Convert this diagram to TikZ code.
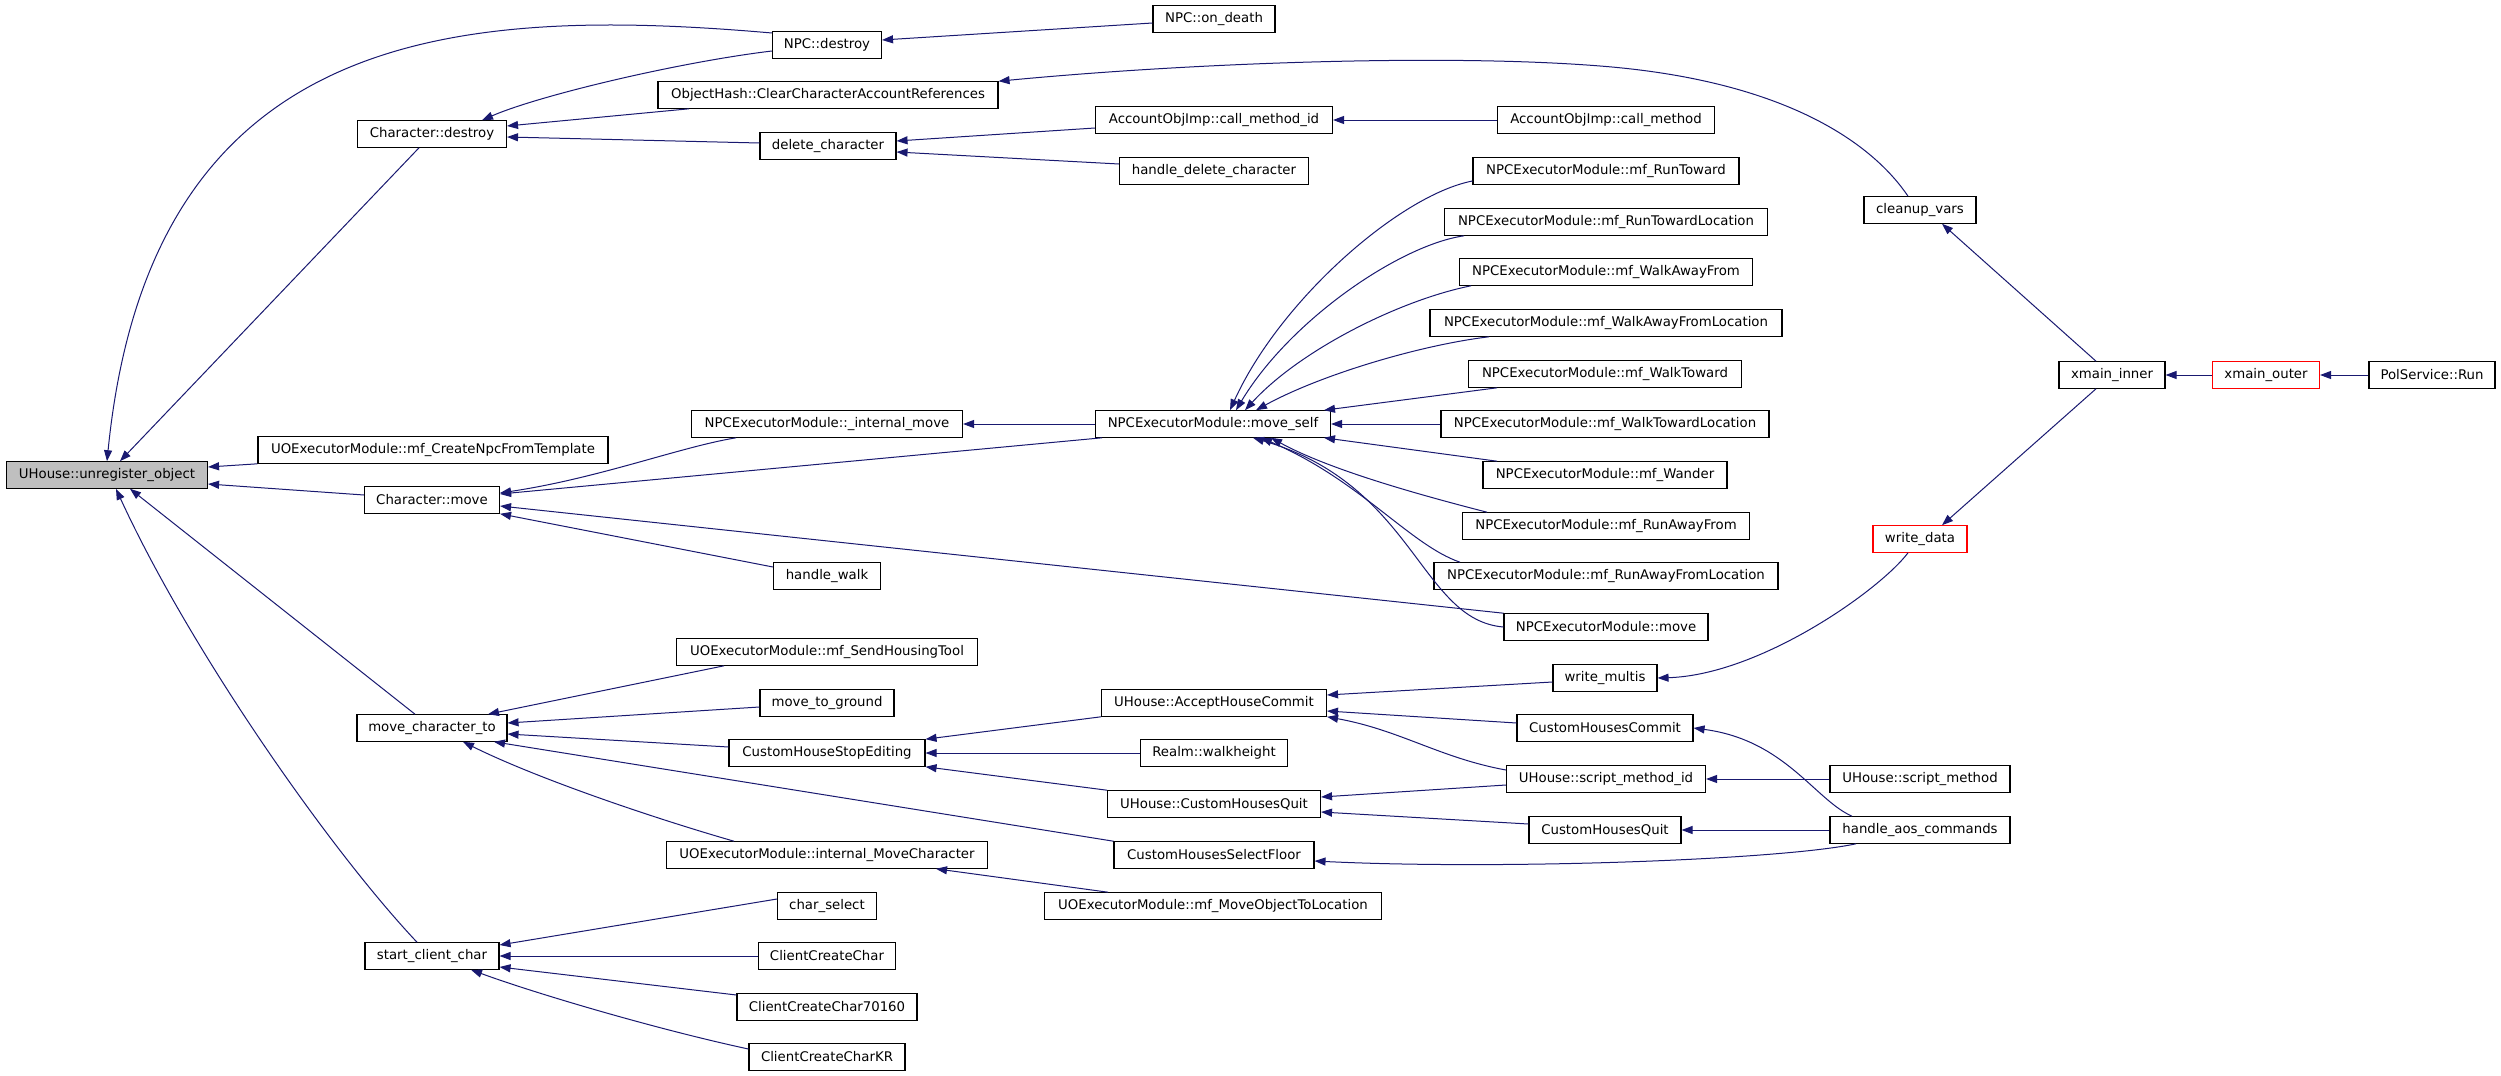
\documentclass[tikz,border=0pt]{standalone}
\usepackage{fontspec}
\setmainfont{DejaVu Sans}
\usetikzlibrary{arrows.meta}
\definecolor{edgeblue}{HTML}{191970}
\definecolor{boxgray}{HTML}{BFBFBF}
\tikzset{
  box/.style={draw=black, line width=1.1pt, minimum height=26.5pt, inner sep=0pt, font=\fontsize{13.3}{16}\selectfont, anchor=center},
  redbox/.style={box, draw=red},
  gbox/.style={box, fill=boxgray},
  edge/.style={draw=edgeblue, line width=1pt, -{Triangle[length=11pt,width=8pt]}},
}
\begin{document}
\begin{tikzpicture}[x={(1pt,0)}, y={(0,-1pt)}]
\fill[white] (0,0) rectangle (2501,1076);
\useasboundingbox (0,0) rectangle (2501,1076);
% column 0
\node[gbox, minimum width=201pt] (ureg) at (107,475) {UHouse::unregister\_object};
% column 1
\node[box, minimum width=149pt] (cdestroy) at (432,134) {Character::destroy};
\node[box, minimum width=350pt] (createnpc) at (433,450) {UOExecutorModule::mf\_CreateNpcFromTemplate};
\node[box, minimum width=135pt] (cmove) at (432,500) {Character::move};
\node[box, minimum width=150pt] (mcto) at (432,728) {move\_character\_to};
\node[box, minimum width=134pt] (scc) at (432,956) {start\_client\_char};
% column 2
\node[box, minimum width=109pt] (npcdestroy) at (827,45) {NPC::destroy};
\node[box, minimum width=340pt] (ohash) at (828,95) {ObjectHash::ClearCharacterAccountReferences};
\node[box, minimum width=136pt] (delchar) at (828,146) {delete\_character};
\node[box, minimum width=271pt] (imove) at (827,424) {NPCExecutorModule::\_internal\_move};
\node[box, minimum width=107pt] (hwalk) at (827,576) {handle\_walk};
\node[box, minimum width=301pt] (sendhouse) at (827,652) {UOExecutorModule::mf\_SendHousingTool};
\node[box, minimum width=134pt] (mtg) at (827,703) {move\_to\_ground};
\node[box, minimum width=196pt] (chse) at (827,753) {CustomHouseStopEditing};
\node[box, minimum width=321pt] (imc) at (827,855) {UOExecutorModule::internal\_MoveCharacter};
\node[box, minimum width=99pt] (chsel) at (827,906) {char\_select};
\node[box, minimum width=137pt] (ccc) at (827,956) {ClientCreateChar};
\node[box, minimum width=180pt] (ccc7) at (827,1007) {ClientCreateChar70160};
\node[box, minimum width=156pt] (ccckr) at (827,1057) {ClientCreateCharKR};
% column 3
\node[box, minimum width=122pt] (ondeath) at (1214,19) {NPC::on\_death};
\node[box, minimum width=237pt] (cmid) at (1214,120) {AccountObjImp::call\_method\_id};
\node[box, minimum width=189pt] (hdc) at (1214,171) {handle\_delete\_character};
\node[box, minimum width=235pt] (mself) at (1213,424) {NPCExecutorModule::move\_self};
\node[box, minimum width=225pt] (ahc) at (1214,703) {UHouse::AcceptHouseCommit};
\node[box, minimum width=147pt] (rwh) at (1214,753) {Realm::walkheight};
\node[box, minimum width=213pt] (uchq) at (1214,804) {UHouse::CustomHousesQuit};
\node[box, minimum width=200pt] (chsf) at (1214,855) {CustomHousesSelectFloor};
\node[box, minimum width=337pt] (mfmol) at (1213,906) {UOExecutorModule::mf\_MoveObjectToLocation};
% column 4
\node[box, minimum width=217pt] (cm) at (1606,120) {AccountObjImp::call\_method};
\node[box, minimum width=266pt] (rt) at (1606,171) {NPCExecutorModule::mf\_RunToward};
\node[box, minimum width=323pt] (rtl) at (1606,222) {NPCExecutorModule::mf\_RunTowardLocation};
\node[box, minimum width=293pt] (waf) at (1606,272) {NPCExecutorModule::mf\_WalkAwayFrom};
\node[box, minimum width=352pt] (wafl) at (1606,323) {NPCExecutorModule::mf\_WalkAwayFromLocation};
\node[box, minimum width=273pt] (wt) at (1605,374) {NPCExecutorModule::mf\_WalkToward};
\node[box, minimum width=328pt] (wtl) at (1605,424) {NPCExecutorModule::mf\_WalkTowardLocation};
\node[box, minimum width=244pt] (wander) at (1605,475) {NPCExecutorModule::mf\_Wander};
\node[box, minimum width=287pt] (raf) at (1606,526) {NPCExecutorModule::mf\_RunAwayFrom};
\node[box, minimum width=344pt] (rafl) at (1606,576) {NPCExecutorModule::mf\_RunAwayFromLocation};
\node[box, minimum width=204pt] (nmove) at (1606,627) {NPCExecutorModule::move};
\node[box, minimum width=104pt] (wmultis) at (1605,678) {write\_multis};
\node[box, minimum width=176pt] (chc) at (1605,728) {CustomHousesCommit};
\node[box, minimum width=199pt] (smid) at (1606,779) {UHouse::script\_method\_id};
\node[box, minimum width=152pt] (chq) at (1605,830) {CustomHousesQuit};
% column 5
\node[box, minimum width=112pt] (cleanup) at (1920,210) {cleanup\_vars};
\node[redbox, minimum width=94pt] (wdata) at (1920,539) {write\_data};
\node[box, minimum width=180pt] (sm) at (1920,779) {UHouse::script\_method};
\node[box, minimum width=180pt] (hac) at (1920,830) {handle\_aos\_commands};
% columns 6-8
\node[box, minimum width=106pt] (xin) at (2112,375) {xmain\_inner};
\node[redbox, minimum width=107pt] (xout) at (2266,375) {xmain\_outer};
\node[box, minimum width=126pt] (psr) at (2432,375) {PolService::Run};
% edges
\draw[edge] ([yshift=12pt]npcdestroy.west) .. controls (450,5) and (150,30) .. (ureg.north);
\draw[edge] ([xshift=-13pt]cdestroy.south) -- ([xshift=13pt]ureg.north);
\draw[edge] ([yshift=-6pt]npcdestroy.west) .. controls (680,62) and (540,95) .. ([xshift=50pt]cdestroy.north);
\draw[edge] ([xshift=-139pt]ohash.south) -- ([yshift=8pt]cdestroy.east);
\draw[edge] ([yshift=3pt]delchar.west) -- ([yshift=-3pt]cdestroy.east);
\draw[edge] ([yshift=-8pt]cmid.west) -- ([yshift=5pt]delchar.east);
\draw[edge] ([yshift=7pt]hdc.west) -- ([yshift=-6pt]delchar.east);
\draw[edge] ([yshift=-4pt]ondeath.west) -- ([yshift=5pt]npcdestroy.east);
\draw[edge] (cm.west) -- (cmid.east);
\draw[edge] ([xshift=-12pt]cleanup.north) .. controls (1870,140) and (1780,80) .. (1600,66) .. controls (1450,54) and (1200,62) .. (ohash.north east);
\draw[edge] ([xshift=-16pt]xin.north) -- ([xshift=22pt]cleanup.south);
\draw[edge] (xout.west) -- (xin.east);
\draw[edge] (psr.west) -- (xout.east);
\draw[edge] ([xshift=-16pt]xin.south) -- ([xshift=22pt]wdata.north);
\draw[edge] ([xshift=-12pt]wdata.south) .. controls (1880,590) and (1760,675) .. (wmultis.east);
\draw[edge] ([yshift=-4pt]wmultis.west) -- ([yshift=8pt]ahc.east);
\draw[edge] ([yshift=5pt]chc.west) -- ([yshift=-8pt]ahc.east);
\draw[edge] ([yshift=9pt]smid.west) .. controls (1440,758) and (1400,730) .. (ahc.south east);
\draw[edge] ([yshift=-6pt]smid.west) -- ([yshift=7pt]uchq.east);
\draw[edge] ([yshift=6pt]chq.west) -- ([yshift=-8pt]uchq.east);
\draw[edge] (sm.west) -- (smid.east);
\draw[edge] (hac.west) -- (chq.east);
\draw[edge] ([xshift=-68pt]hac.north) .. controls (1815,800) and (1785,740) .. (chc.east);
\draw[edge] ([xshift=-64pt]hac.south) .. controls (1780,860) and (1500,870) .. ([yshift=-6pt]chsf.east);
\draw[edge] (ahc.south west) -- (chse.north east);
\draw[edge] (rwh.west) -- (chse.east);
\draw[edge] (uchq.north west) -- (chse.south east);
\draw[edge] ([yshift=6pt]chse.west) -- ([yshift=-6pt]mcto.east);
\draw[edge] (chsf.north west) -- ([xshift=62pt]mcto.south);
\draw[edge] ([xshift=-93pt]imc.north) .. controls (660,820) and (540,780) .. ([xshift=31pt]mcto.south);
\draw[edge] ([xshift=-103pt]sendhouse.south) -- ([xshift=56pt]mcto.north);
\draw[edge] ([yshift=-4pt]mtg.west) -- ([yshift=5pt]mcto.east);
\draw[edge] ([xshift=-105pt]mfmol.north) -- ([xshift=109pt]imc.south);
\draw[edge] ([xshift=-17pt]mcto.north) -- ([xshift=23pt]ureg.south);
\draw[edge] ([xshift=-15pt]scc.north) .. controls (330,850) and (190,650) .. ([xshift=9pt]ureg.south);
\draw[edge] (createnpc.south west) -- ([yshift=8pt]ureg.east);
\draw[edge] ([yshift=5pt]cmove.west) -- ([yshift=-9pt]ureg.east);
\draw[edge] ([xshift=-91pt]imove.south) .. controls (680,447) and (600,478) .. ([yshift=7pt]cmove.east);
\draw[edge] ([xshift=-111pt]mself.south) -- ([yshift=6pt]cmove.east);
\draw[edge] ([yshift=9pt]hwalk.west) -- (cmove.south east);
\draw[edge] (nmove.north west) -- ([yshift=-6pt]cmove.east);
\draw[edge] (mself.west) -- (imove.east);
\draw[edge] ([yshift=-10pt]rt.west) .. controls (1400,195) and (1280,300) .. ([xshift=17pt]mself.north);
\draw[edge] ([xshift=-142pt]rtl.south) .. controls (1400,245) and (1290,320) .. ([xshift=23pt]mself.north);
\draw[edge] ([xshift=-135pt]waf.south) .. controls (1400,300) and (1300,350) .. ([xshift=32pt]mself.north);
\draw[edge] ([xshift=-117pt]wafl.south) .. controls (1420,345) and (1320,375) .. ([xshift=43pt]mself.north);
\draw[edge] ([xshift=-108pt]wt.south) -- ([xshift=111pt]mself.north);
\draw[edge] (wtl.west) -- (mself.east);
\draw[edge] ([xshift=-108pt]wander.north) -- ([xshift=111pt]mself.south);
\draw[edge] ([xshift=-119pt]raf.north) .. controls (1420,495) and (1330,470) .. ([xshift=58pt]mself.south);
\draw[edge] ([xshift=-146pt]rafl.north) .. controls (1410,545) and (1360,480) .. ([xshift=48pt]mself.south);
\draw[edge] (nmove.west) .. controls (1420,620) and (1415,485) .. ([xshift=40pt]mself.south);
\draw[edge] ([yshift=7pt]chsel.west) -- ([yshift=11pt]scc.east);
\draw[edge] (ccc.west) -- (scc.east);
\draw[edge] ([yshift=12pt]ccc7.west) -- ([yshift=-11pt]scc.east);
\draw[edge] ([yshift=8pt]ccckr.west) .. controls (660,1030) and (540,995) .. ([xshift=39pt]scc.south);
\end{tikzpicture}
\end{document}
